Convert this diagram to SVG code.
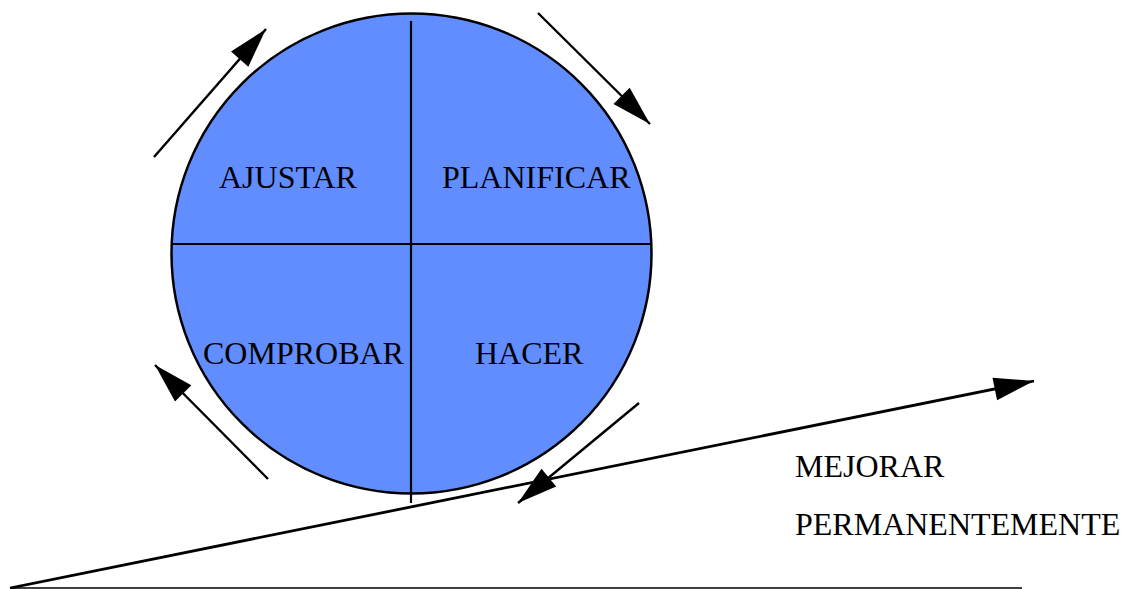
<svg xmlns="http://www.w3.org/2000/svg" width="1124" height="589" viewBox="0 0 1124 589">
<style>
.lbl{font-family:"Liberation Serif","Times New Roman",serif;font-size:32px;fill:#000}
.ln{stroke:#000;stroke-width:2.2;fill:none}
.arr{stroke:#000;stroke-width:2.4;fill:none;marker-end:url(#ah)}
</style>
<defs>
<marker id="ah" markerUnits="userSpaceOnUse" markerWidth="40" markerHeight="23" refX="40" refY="11.5" orient="auto" overflow="visible">
<path d="M0,0 L40,11.5 L0,23 z" fill="#000"/>
</marker>
</defs>
<rect width="1124" height="589" fill="#fff"/>
<g id="cycle">
<circle cx="411.5" cy="253.5" r="240" fill="#618dff" stroke="#000" stroke-width="2.5"/>
<line class="ln" x1="411" y1="21" x2="411" y2="503"/>
<line class="ln" x1="171" y1="244" x2="652" y2="244"/>
</g>
<g id="ajustar"><text class="lbl" x="219" y="188">AJUSTAR</text></g>
<g id="planificar"><text class="lbl" x="442" y="188">PLANIFICAR</text></g>
<g id="comprobar"><text class="lbl" x="203" y="364">COMPROBAR</text></g>
<g id="hacer"><text class="lbl" x="475" y="364">HACER</text></g>
<g id="mejorar"><text class="lbl" x="795" y="477">MEJORAR</text><text class="lbl" x="795" y="535">PERMANENTEMENTE</text></g>
<g id="connectors">
<line class="arr" x1="154" y1="157" x2="266" y2="29"/>
<line class="arr" x1="538" y1="13" x2="650" y2="124"/>
<line class="arr" x1="639" y1="403" x2="518" y2="503"/>
<line class="arr" x1="268" y1="479" x2="155" y2="365"/>
<line class="arr" x1="10" y1="588" x2="1034" y2="381" style="stroke-width:2.8"/>
<line class="ln" x1="10" y1="588" x2="1022" y2="588" style="stroke-width:1.6"/>
</g>
</svg>
